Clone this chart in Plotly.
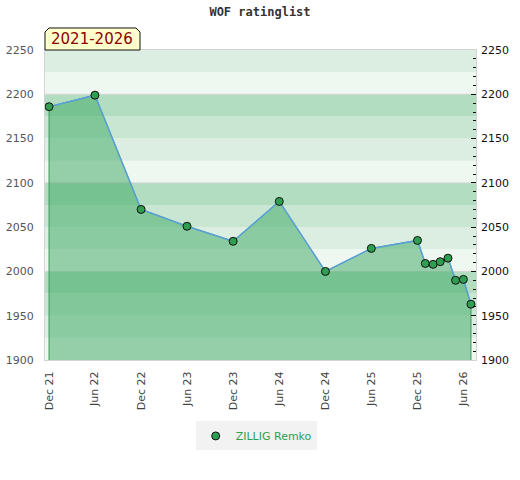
import plotly.graph_objects as go

# rating history
dates = ["2021-12-01", "2022-06-01", "2022-12-01", "2023-06-01", "2023-12-01",
         "2024-06-01", "2024-12-01", "2025-06-01", "2025-12-01", "2026-01-01",
         "2026-02-01", "2026-03-01", "2026-04-01", "2026-05-01", "2026-06-01",
         "2026-07-01"]
ratings = [2186, 2199, 2070, 2051, 2034, 2079, 2000, 2026, 2035, 2009,
           2008, 2011, 2015, 1990, 1991, 1963]
player = "ZILLIG Remko"
period = "2021-2026"

ymin, ymax = 1900, 2250
# band shades inside each 100 block, from bottom to top
band_colors = ["#eff7f1", "#dbeee1", "#c8e6d2", "#b3ddc0"]

fig = go.Figure()

# filled area under the curve, closed down to the axis
fig.add_trace(go.Scatter(
    x=[dates[0]] + dates + [dates[-1]],
    y=[ymin] + ratings + [ymin],
    mode="lines", fill="toself",
    fillcolor="rgba(60,168,98,0.5)",
    line=dict(color="#3a9a5a", width=1),
    hoverinfo="skip", showlegend=False,
))
fig.add_trace(go.Scatter(
    x=dates, y=ratings, mode="lines",
    line=dict(color="#5aa0d8", width=1.5),
    hoverinfo="skip", showlegend=False,
))
fig.add_trace(go.Scatter(
    x=dates, y=ratings, mode="markers", name=player,
    marker=dict(color="#2e9e50", size=8, line=dict(color="#111111", width=1)),
))
# invisible trace so the right axis is drawn
fig.add_trace(go.Scatter(
    x=dates[:1], y=ratings[:1], yaxis="y2", mode="markers",
    marker=dict(opacity=0), hoverinfo="skip", showlegend=False,
))

# background bands every 25 points
shapes = []
for i, lo in enumerate(range(ymin, ymax, 25)):
    shapes.append(dict(type="rect", xref="paper", yref="y", x0=0, x1=1,
                       y0=lo, y1=lo + 25, fillcolor=band_colors[i % 4],
                       line=dict(width=0), layer="below"))
for v in range(ymin + 100, ymax, 100):
    shapes.append(dict(type="line", xref="paper", yref="y", x0=0, x1=1,
                       y0=v, y1=v, line=dict(color="#d4d4d4", width=1),
                       layer="below"))

# period tag with cut corners above the plot
shapes.append(dict(type="path", xref="paper", yref="paper",
                   path="M 0,1 L 0,1.058 L 0.0093,1.071 L 0.2111,1.071 "
                        "L 0.2204,1.058 L 0.2204,1 Z",
                   fillcolor="#ffffcc", line=dict(color="#111111", width=1)))

fig.update_layout(
    width=520, height=480,
    margin=dict(l=45, r=44, t=50, b=120),
    paper_bgcolor="white", plot_bgcolor="white",
    font=dict(family="DejaVu Sans", size=11, color="#555555"),
    title=dict(text="<b>WOF ratinglist</b>", x=0.5, xanchor="center",
               y=0.985, yanchor="top",
               font=dict(family="DejaVu Sans Mono", size=12, color="#333333")),
    shapes=shapes,
    annotations=[dict(text=period, xref="paper", yref="paper",
                      x=0.110, y=1.035, xanchor="center", yanchor="middle",
                      showarrow=False,
                      font=dict(family="DejaVu Sans", size=15, color="#8b0000"))],
    xaxis=dict(type="date", range=["2021-11-15", "2026-07-21"],
               tick0="2021-12-01", dtick="M6", tickformat="%b %y",
               tickangle=-90, showgrid=False, zeroline=False,
               showline=True, linecolor="#d4d4d4", mirror=True,
               ticks="", ticklabelstandoff=6, automargin=False,
               tickfont=dict(color="#444444")),
    yaxis=dict(range=[ymin, ymax], dtick=50, showgrid=False, zeroline=False,
               showline=True, linecolor="#d4d4d4", mirror=True, ticks="",
               ticklabelstandoff=8, automargin=False,
               tickfont=dict(color="#555555")),
    yaxis2=dict(range=[ymin, ymax], dtick=50, overlaying="y", side="right",
                showgrid=False, zeroline=False, ticks="inside", ticklen=5,
                tickcolor="#111111", automargin=False, ticklabelstandoff=4,
                minor=dict(dtick=10, ticks="inside", ticklen=3,
                           tickcolor="#111111"),
                tickfont=dict(color="#111111")),
    legend=dict(orientation="h", x=0.49, xanchor="center", y=-0.245,
                yanchor="middle", bgcolor="#f2f2f2",
                font=dict(color="#2ea050", size=11)),
)

# page has a default body margin; drop it so the chart sits at the corner
fig.write_html("out.html", config={"displayModeBar": False},
               post_script="document.body.style.margin='0';")
